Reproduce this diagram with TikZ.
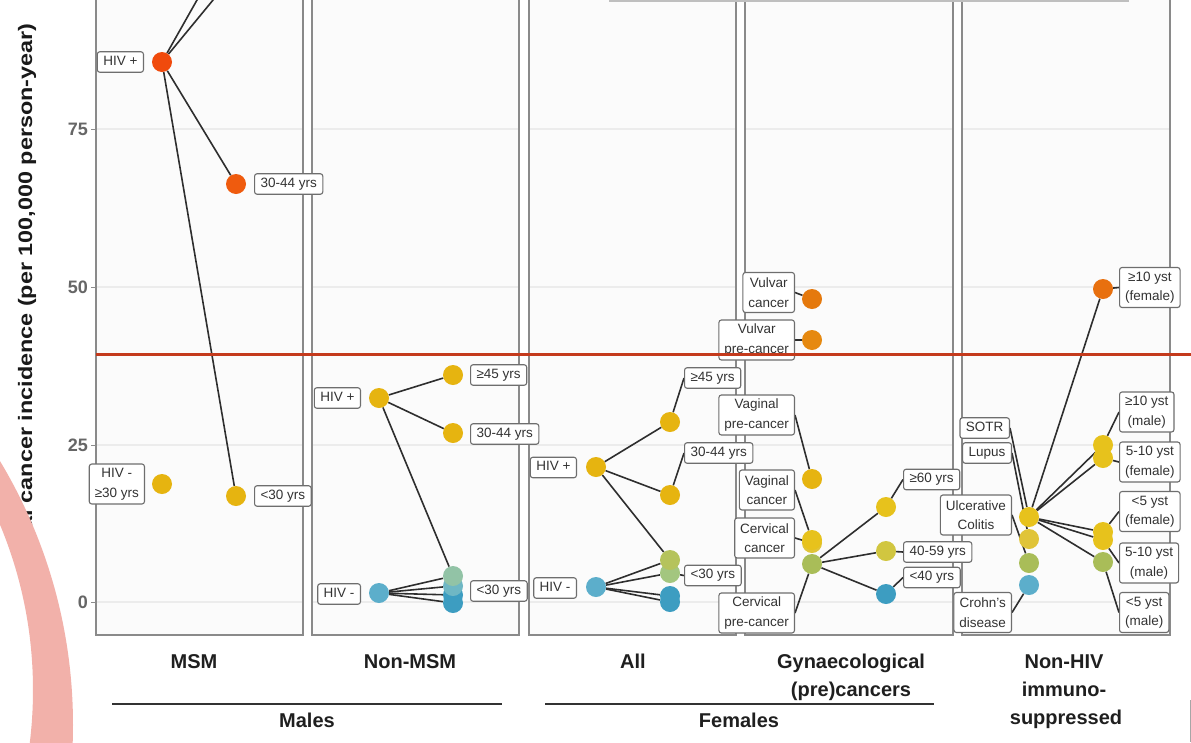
\documentclass[tikz,border=0pt]{standalone}
\usepackage{fontspec}
\setmainfont{Liberation Sans}
\pgfdeclarelayer{bg}
\pgfdeclarelayer{lines}
\pgfdeclarelayer{dots}
\pgfdeclarelayer{top}
\pgfsetlayers{bg,lines,dots,main,top}
\definecolor{cRed}{HTML}{F04A0C}
\definecolor{cOrA}{HTML}{EF5B0E}
\definecolor{cYel}{HTML}{E6B410}
\definecolor{cVul}{HTML}{E5790D}
\definecolor{cVulB}{HTML}{E68910}
\definecolor{cOrC}{HTML}{E8700F}
\definecolor{cBlueL}{HTML}{5CAECB}
\definecolor{cBlueM}{HTML}{6FB7C4}
\definecolor{cBlue}{HTML}{3D9DC1}
\definecolor{cGreenL}{HTML}{92C3A6}
\definecolor{cOlive}{HTML}{B5C35C}
\definecolor{cGreenB}{HTML}{A3C67F}
\definecolor{cOliveB}{HTML}{A9BD58}
\definecolor{cYG}{HTML}{D1C640}
\definecolor{cYelB}{HTML}{E7C21C}
\definecolor{cYelC}{HTML}{E0C438}
\definecolor{cRedLine}{HTML}{C43A1C}
\definecolor{cPink}{HTML}{F2B1AA}
\definecolor{cFrame}{HTML}{8A8A8A}
\definecolor{cGrid}{HTML}{ECECEC}
\definecolor{cPanel}{HTML}{FBFBFB}
\definecolor{cLbl}{HTML}{333333}
\definecolor{cLblBorder}{HTML}{6E6E6E}
\definecolor{cSeg}{HTML}{2E2E2E}
\tikzset{
  dot/.style={circle, inner sep=0pt, minimum size=20pt, draw=none},
  lbl/.style={draw=cLblBorder, fill=white, rounded corners=2.5pt, line width=1.1pt,
    inner xsep=6pt, inner ysep=4pt, text height=9.7pt, text depth=2.8pt,
    font=\fontsize{13.5}{19.5}\selectfont, text=cLbl},
  lbltwo/.style={draw=cLblBorder, fill=white, rounded corners=2.5pt, line width=1.1pt,
    inner xsep=5.5pt, inner ysep=3pt, minimum height=40pt, align=center,
    font=\fontsize{13.5}{19.5}\selectfont, text=cLbl},
  seg/.style={draw=cSeg, line width=1.6pt},
  panel/.style={draw=cFrame, line width=1.8pt},
  gridln/.style={draw=cGrid, line width=1.4pt},
  cat/.style={font=\fontsize{20}{28}\selectfont\bfseries, text=black!88, anchor=base, inner sep=0pt},
  ticklab/.style={font=\fontsize{18}{20}\selectfont\bfseries, text=black!60, anchor=east, inner sep=0pt},
  tickmk/.style={draw=black!45, line width=1pt},
  rule/.style={draw=black!80, line width=1.6pt}
}
\begin{document}
\begin{tikzpicture}[x=1pt,y=-1pt]
\useasboundingbox (0,0) rectangle (1191,742);
% ---------------- background and panels
\begin{pgfonlayer}{bg}
\fill[white] (0,0) rectangle (1191,742);
\foreach \a/\b in {96/303,312/519,529/736,745/953,962/1170}{
  \fill[cPanel] (\a,-10) rectangle (\b,635);
  \foreach \g in {129,287,445,602} \draw[gridln] (\a,\g) -- (\b,\g);
  \draw[panel] (\a,-10) rectangle (\b,635);
}
\end{pgfonlayer}
% ---------------- axis
\node[ticklab] (y75) at (88,129) {75};
\node[ticklab] (y50) at (88,287) {50};
\node[ticklab] (y25) at (88,445) {25};
\node[ticklab] (y0) at (88,602) {0};
\foreach \g in {129,287,445,602} \draw[tickmk] (91,\g) -- (96,\g);
\node[rotate=90, xscale=1.2, anchor=base east, font=\fontsize{19.5}{22}\selectfont\bfseries,
  text=black!90, inner sep=0pt] (ytitle) at (32,23) {Anal cancer incidence (per 100,000 person-year)};
% ---------------- dots
\begin{pgfonlayer}{dots}
% panel 1
\node[dot,fill=cRed] (mHp) at (162,62) {};
\node[dot,fill=cOrA] (mA3044) at (236,184) {};
\node[dot,fill=cYel] (mAlt30) at (236,496) {};
\node[dot,fill=cYel] (mHn) at (162,484) {};
% panel 2
\node[dot,fill=cYel] (nHp) at (379,398) {};
\node[dot,fill=cYel] (n45) at (453,375) {};
\node[dot,fill=cYel] (n3044) at (453,433) {};
\node[dot,fill=cBlueL] (nHn) at (379,593) {};
\node[dot,fill=cBlue] (nc4) at (453,603) {};
\node[dot,fill=cBlue] (nc3) at (453,595) {};
\node[dot,fill=cBlueM] (nc2) at (453,586) {};
\node[dot,fill=cGreenL] (nc1) at (453,576) {};
% panel 3
\node[dot,fill=cYel] (aHp) at (596,467) {};
\node[dot,fill=cYel] (a45) at (670,422) {};
\node[dot,fill=cYel] (a3044) at (670,495) {};
\node[dot,fill=cBlueL] (aHn) at (596,587) {};
\node[dot,fill=cBlue] (ac4) at (670,602) {};
\node[dot,fill=cBlue] (ac3) at (670,596) {};
\node[dot,fill=cGreenB] (ac2) at (670,573) {};
\node[dot,fill=cOlive] (ac1) at (670,560) {};
% panel 4
\node[dot,fill=cVul] (gVc) at (812,299) {};
\node[dot,fill=cVulB] (gVpc) at (812,340) {};
\node[dot,fill=cYel] (gVagpc) at (812,479) {};
\node[dot,fill=cOliveB] (gCpc) at (812,564) {};
\node[dot,fill=cYelC] (gCc) at (812,543) {};
\node[dot,fill=cYelB] (gVagc) at (812,540) {};
\node[dot,fill=cYelB] (g60) at (886,507) {};
\node[dot,fill=cYG] (g4059) at (886,551) {};
\node[dot,fill=cBlue] (g40) at (886,594) {};
% panel 5
\node[dot,fill=cBlueL] (hC) at (1029,585) {};
\node[dot,fill=cOliveB] (hU) at (1029,563) {};
\node[dot,fill=cYelC] (hL) at (1029,539) {};
\node[dot,fill=cYelB] (hS) at (1029,517) {};
\node[dot,fill=cOrC] (r10f) at (1103,289) {};
\node[dot,fill=cOliveB] (r5m) at (1103,562) {};
\node[dot,fill=cYelB] (r510m) at (1103,540) {};
\node[dot,fill=cYelB] (r5f) at (1103,532) {};
\node[dot,fill=cYelB] (r510f) at (1103,458) {};
\node[dot,fill=cYelB] (r10m) at (1103,445) {};
\end{pgfonlayer}
\coordinate (mUp1) at (219.6,-40);
\coordinate (mUp2) at (246,-40);
% ---------------- labels
% panel 1
\node[lbl, anchor=east] (lmHp) at (144,62) {HIV +};
\node[lbl, anchor=west] (lmA3044) at (254,184) {30-44 yrs};
\node[lbl, anchor=west] (lmAlt30) at (254,496) {<30 yrs};
\node[lbltwo, anchor=east] (lmHn) at (145,484) {HIV -\\≥30 yrs};
% panel 2
\node[lbl, anchor=east] (lnHp) at (361,398) {HIV +};
\node[lbl, anchor=west] (ln45) at (470,375) {≥45 yrs};
\node[lbl, anchor=west] (ln3044) at (470,434) {30-44 yrs};
\node[lbl, anchor=east] (lnHn) at (361,594) {HIV -};
\node[lbl, anchor=west] (lnlt30) at (470,591) {<30 yrs};
% panel 3
\node[lbl, anchor=east] (laHp) at (577,467.5) {HIV +};
\node[lbl, anchor=west] (la45) at (684,378) {≥45 yrs};
\node[lbl, anchor=west] (la3044) at (684,453) {30-44 yrs};
\node[lbl, anchor=east] (laHn) at (577,588) {HIV -};
\node[lbl, anchor=west] (lalt30) at (684,575.5) {<30 yrs};
% panel 4
\node[lbltwo, anchor=east] (lgVc) at (795,292.5) {Vulvar\\cancer};
\node[lbltwo, anchor=east] (lgVpc) at (795,340) {Vulvar\\pre-cancer};
\node[lbltwo, anchor=east] (lgVagpc) at (795,415) {Vaginal\\pre-cancer};
\node[lbltwo, anchor=east] (lgVagc) at (795,490) {Vaginal\\cancer};
\node[lbltwo, anchor=east] (lgCc) at (795,538) {Cervical\\cancer};
\node[lbltwo, anchor=east] (lgCpc) at (795,613) {Cervical\\pre-cancer};
\node[lbl, anchor=west] (lg60) at (903,479.5) {≥60 yrs};
\node[lbl, anchor=west] (lg4059) at (903,552) {40-59 yrs};
\node[lbl, anchor=west] (lg40) at (903,577.5) {<40 yrs};
% panel 5
\node[lbl, anchor=east] (lhS) at (1010,428) {SOTR};
\node[lbl, anchor=east] (lhL) at (1012,453) {Lupus};
\node[lbltwo, anchor=east] (lhU) at (1012,515) {Ulcerative\\Colitis};
\node[lbltwo, anchor=east] (lhC) at (1012,612.5) {Crohn's\\disease};
\node[lbltwo, anchor=west] (lr10f) at (1119,287.5) {≥10 yst\\(female)};
\node[lbltwo, anchor=west] (lr10m) at (1119,412) {≥10 yst\\(male)};
\node[lbltwo, anchor=west] (lr510f) at (1119,462) {5-10 yst\\(female)};
\node[lbltwo, anchor=west] (lr5f) at (1119,511.5) {<5 yst\\(female)};
\node[lbltwo, anchor=west] (lr510m) at (1119,563) {5-10 yst\\(male)};
\node[lbltwo, anchor=west] (lr5m) at (1119,612.5) {<5 yst\\(male)};
% ---------------- connectors
\begin{pgfonlayer}{lines}
% panel 1
\draw[seg] (mHp) -- (mUp1);
\draw[seg] (mHp) -- (mUp2);
\draw[seg] (mHp) -- (mA3044);
\draw[seg] (mHp) -- (mAlt30);
% panel 2
\draw[seg] (nHp) -- (n45);
\draw[seg] (nHp) -- (n3044);
\draw[seg] (nHp) -- (nc1);
\draw[seg] (nHn) -- (nc1);
\draw[seg] (nHn) -- (nc2);
\draw[seg] (nHn) -- (nc3);
\draw[seg] (nHn) -- (nc4);
% panel 3
\draw[seg] (aHp) -- (a45);
\draw[seg] (aHp) -- (a3044);
\draw[seg] (aHp) -- (ac1);
\draw[seg] (aHn) -- (ac1);
\draw[seg] (aHn) -- (ac2);
\draw[seg] (aHn) -- (ac3);
\draw[seg] (aHn) -- (ac4);
\draw[seg] (la45.west) -- (a45);
\draw[seg] (la3044.west) -- (a3044);
\draw[seg] (lalt30.west) -- (ac2);
% panel 4
\draw[seg] (lgVc.east) -- (gVc);
\draw[seg] (lgVpc.east) -- (gVpc);
\draw[seg] (lgVagpc.east) -- (gVagpc);
\draw[seg] (lgVagc.east) -- (gVagc);
\draw[seg] (lgCc.east) -- (gCc);
\draw[seg] (lgCpc.east) -- (gCpc);
\draw[seg] (gCpc) -- (g60);
\draw[seg] (gCpc) -- (g4059);
\draw[seg] (gCpc) -- (g40);
\draw[seg] (lg60.west) -- (g60);
\draw[seg] (lg4059.west) -- (g4059);
\draw[seg] (lg40.west) -- (g40);
% panel 5
\draw[seg] (lhS.east) -- (hS);
\draw[seg] (lhL.east) -- (hL);
\draw[seg] (lhU.east) -- (hU);
\draw[seg] (lhC.east) -- (hC);
\foreach \t in {r10f,r10m,r510f,r5f,r510m,r5m} \draw[seg] (hS) -- (\t);
\draw[seg] (lr10f.west) -- (r10f);
\draw[seg] (lr10m.west) -- (r10m);
\draw[seg] (lr510f.west) -- (r510f);
\draw[seg] (lr5f.west) -- (r5f);
\draw[seg] (lr510m.west) -- (r510m);
\draw[seg] (lr5m.west) -- (r5m);
\end{pgfonlayer}
% ---------------- category labels
\node[cat] (tMSM) at (194,668) {MSM};
\node[cat] (tNon) at (410,668) {Non-MSM};
\node[cat] (tAll) at (633,668) {All};
\node[cat] (tGynA) at (851,668) {Gynaecological};
\node[cat] (tGynB) at (851,696) {(pre)cancers};
\node[cat] (tNHA) at (1064,668) {Non-HIV};
\node[cat] (tNHB) at (1064,696) {immuno-};
\node[cat] (tNHC) at (1066,724) {suppressed};
\node[cat] (tMales) at (307,727) {Males};
\node[cat] (tFem) at (739,727) {Females};
\coordinate (mlA) at (112,704); \coordinate (mlB) at (502,704);
\coordinate (flA) at (545,704); \coordinate (flB) at (934,704);
\draw[rule] (mlA) -- (mlB);
\draw[rule] (flA) -- (flB);
% ---------------- top layer
\begin{pgfonlayer}{top}
\coordinate (rlA) at (96,354); \coordinate (rlB) at (1191,354);
\draw[cRedLine, line width=3pt] (rlA) -- (rlB);
\filldraw[fill=white, draw=black!25, line width=1.2pt] (610,-20) rectangle (1128,1);
\draw[black!35, line width=1pt] (1190,700) -- (1190,742);
\begin{scope}
\clip (0,0) rectangle (1191,742);
\fill[cPink, even odd rule] (-440,725) circle (513) (-396,690) circle (429);
\end{scope}
\end{pgfonlayer}
\end{tikzpicture}
\end{document}
